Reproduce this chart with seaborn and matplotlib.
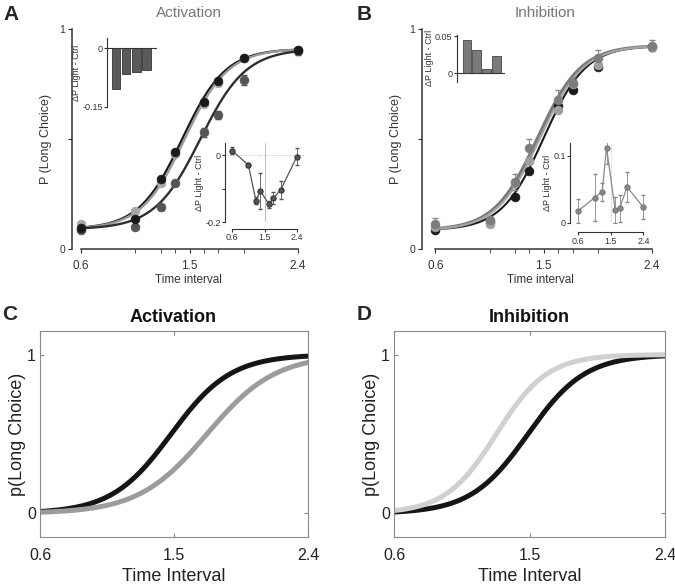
import numpy as np
import pandas as pd
import seaborn as sns
import matplotlib.pyplot as plt

# time intervals tested (s)
intervals = [0.6, 1.05, 1.26, 1.38, 1.62, 1.74, 1.95, 2.4]

# A - activation, P(long choice)
act_black = [0.094, 0.135, 0.318, 0.439, 0.668, 0.764, 0.870, 0.905]
act_grey = [0.114, 0.174, 0.300, 0.430, 0.660, 0.756, 0.867, 0.905]
act_light = [0.086, 0.100, 0.190, 0.300, 0.530, 0.610, 0.770, 0.900]
act_light_err = [0.010, 0.008, 0.012, 0.012, 0.019, 0.019, 0.023, 0.020]
# fitted psychometric curves: midpoint, width (black, grey, light)
act_fit_mid = [1.44, 1.46, 1.59]
act_fit_width = [0.18, 0.18, 0.19]
act_fit_range = [0.09, 0.91]
# insets
act_bar = [-0.105, -0.066, -0.062, -0.056]
act_diff = [0.013, -0.030, -0.136, -0.106, -0.146, -0.129, -0.104, -0.005]
act_diff_err = [0.010, 0.004, 0.011, 0.054, 0.010, 0.018, 0.026, 0.025]

# B - inhibition
inh_black = [0.086, 0.125, 0.238, 0.356, 0.650, 0.723, 0.829, 0.920]
inh_grey = [0.114, 0.132, 0.306, 0.458, 0.677, 0.756, 0.867, 0.925]
inh_grey_err = [0.027, 0.019, 0.037, 0.040, 0.044, 0.027, 0.038, 0.025]
inh_pale = [0.100, 0.114, 0.300, 0.400, 0.632, 0.750, 0.836, 0.920]
inh_fit_mid = [1.50, 1.45, 1.47]
inh_fit_width = [0.175, 0.18, 0.18]
inh_fit_range = [0.085, 0.925]
inh_bar = [0.0455, 0.032, 0.006, 0.024]
inh_diff = [0.018, 0.0375, 0.0465, 0.1125, 0.019, 0.0215, 0.0535, 0.023]
inh_diff_err = [0.018, 0.035, 0.0135, 0.024, 0.020, 0.020, 0.023, 0.018]

# C / D - model curves: midpoint, width
model_act_mid = [1.48, 1.72]
model_act_width = [0.20, 0.23]
model_inh_mid = [1.49, 1.28]
model_inh_width = [0.19, 0.17]


def sigmoid(x, mid, width, lo=0.0, hi=1.0):
    return lo + (hi - lo) / (1 + np.exp(-(x - mid) / width))


sns.set_style("ticks")
plt.rcParams['font.family'] = ['Liberation Sans', 'DejaVu Sans']
plt.rcParams['axes.unicode_minus'] = False

W, H = 675, 588
fig = plt.figure(figsize=(W / 100, H / 100), dpi=100)


def add_ax(left, top, right, bottom):
    return fig.add_axes([left / W, 1 - bottom / H, (right - left) / W, (bottom - top) / H])


def ftext(x, y, s, **kw):
    fig.text(x / W, 1 - y / H, s, ha='center', va='center', **kw)


grid = np.linspace(0.6, 2.4, 300)
axis_col = '#333333'


def style_main(ax, xlim):
    ax.set_xlim(*xlim)
    ax.set_ylim(0, 1)
    sns.despine(ax=ax)
    for s in ['left', 'bottom']:
        ax.spines[s].set_color(axis_col)
        ax.spines[s].set_linewidth(1.1)
    ax.spines['bottom'].set_bounds(0.6, 2.4)
    ax.spines['left'].set_bounds(0, 1)
    ax.set_xticks([0.6, 1.5, 2.4])
    ax.set_xticks(intervals, minor=True)
    ax.set_yticks([0, 0.5, 1])
    ax.set_yticklabels(['0', '', '1'])
    ax.tick_params(axis='x', labelsize=8.5, length=3, pad=5, colors=axis_col)
    ax.tick_params(axis='x', which='minor', length=3, color=axis_col)
    ax.tick_params(axis='y', labelsize=7.5, length=3, pad=2, colors=axis_col)
    ax.set_xlabel('Time interval', fontsize=8.5, labelpad=1, color=axis_col)
    ax.set_ylabel('P (Long Choice)', fontsize=9, labelpad=5, color=axis_col)
    ax.patch.set_alpha(0)


def style_inset(ax):
    sns.despine(ax=ax)
    ax.spines['left'].set_color(axis_col)
    ax.spines['left'].set_linewidth(0.8)
    ax.tick_params(labelsize=6.5, length=2, pad=1, colors=axis_col)
    ax.patch.set_alpha(0)


# ---------------- A ----------------
axA = add_ax(72, 29, 304, 249)
fitA_cols = ['#1a1a1a', '#9a9a9a', '#2e2e2e']
for mid, wd, c in zip(act_fit_mid, act_fit_width, fitA_cols):
    sns.lineplot(x=grid, y=sigmoid(grid, mid, wd, *act_fit_range), color=c, lw=1.7, ax=axA)
axA.errorbar(intervals, act_light, yerr=act_light_err, fmt='none', ecolor='#555555', elinewidth=0.8, capsize=2)
for vals, c in [(act_grey, '#a8a8a8'), (act_light, '#555555'), (act_black, '#1a1a1a')]:
    sns.scatterplot(x=intervals, y=vals, color=c, s=40, edgecolor=c, ax=axA, zorder=3)
style_main(axA, (0.525, 2.45))
ftext(189, 13, 'Activation', fontsize=11, color='#777777')
ftext(11, 15, 'A', fontsize=15, fontweight='bold')

# inset bars A
axAb = add_ax(107, 38, 157, 107)
sns.barplot(x=[0, 1, 2, 3], y=act_bar, color='#5a5a5a', edgecolor='#333333', linewidth=0.6,
            saturation=1, width=0.82, ax=axAb)
axAb.axhline(0, color=axis_col, lw=0.8)
axAb.set_xlim(-0.85, 4.0)
axAb.set_ylim(-0.15, 0.026)
style_inset(axAb)
axAb.spines['bottom'].set_visible(False)
axAb.set_xticks([])
axAb.set_yticks([-0.15, 0])
axAb.set_yticklabels(['-0.15', '0'])
axAb.set_ylabel('ΔP Light - Ctrl', fontsize=6.5, labelpad=1, color=axis_col)

# inset line A
axAl = add_ax(225, 143, 305, 222.3)
axAl.axhline(0, color='#bbbbbb', lw=0.7, ls=':')
axAl.axvline(1.5, color='#bbbbbb', lw=0.7)
axAl.errorbar(intervals, act_diff, yerr=act_diff_err, fmt='none', ecolor='#555555', elinewidth=0.6, capsize=1.5)
sns.lineplot(x=intervals, y=act_diff, color='#555555', lw=0.9, marker='o', markersize=3.8,
             markeredgecolor='#333333', ax=axAl)
axAl.set_xlim(0.396, 2.63)
axAl.set_ylim(-0.2, 0.036)
style_inset(axAl)
axAl.spines['bottom'].set_position(('outward', 5))
axAl.spines['bottom'].set_bounds(0.6, 2.4)
axAl.spines['bottom'].set_color(axis_col)
axAl.set_xticks([0.6, 1.5, 2.4])
axAl.set_xticklabels(['0.6', '1.5', '2.4'])
axAl.set_yticks([-0.2, -0.1, 0])
axAl.set_yticklabels(['-0.2', '', '0'])
axAl.set_ylabel('ΔP Light - Ctrl', fontsize=6.5, labelpad=1, color=axis_col)

# ---------------- B ----------------
axB = add_ax(422, 29, 658, 249)
fitB_cols = ['#1a1a1a', '#7a7a7a', '#a5a5a5']
for mid, wd, c, lw in zip(inh_fit_mid, inh_fit_width, fitB_cols, [1.5, 2.4, 1.5]):
    sns.lineplot(x=grid, y=sigmoid(grid, mid, wd, *inh_fit_range), color=c, lw=lw, ax=axB)
axB.errorbar(intervals, inh_grey, yerr=inh_grey_err, fmt='none', ecolor='#888888', elinewidth=0.8, capsize=2)
for vals, c in [(inh_black, '#1a1a1a'), (inh_pale, '#a0a0a0'), (inh_grey, '#7d7d7d')]:
    sns.scatterplot(x=intervals, y=vals, color=c, s=40, edgecolor=c, ax=axB, zorder=3)
style_main(axB, (0.488, 2.45))
ftext(545, 13, 'Inhibition', fontsize=11, color='#777777')
ftext(364, 14, 'B', fontsize=15, fontweight='bold')

axBb = add_ax(456.7, 35, 505, 81.7)
sns.barplot(x=[0, 1, 2, 3], y=inh_bar, color='#7a7a7a', edgecolor='#444444', linewidth=0.6,
            saturation=1, width=0.83, ax=axBb)
axBb.axhline(0, color=axis_col, lw=0.8)
axBb.set_xlim(-1.0, 3.86)
axBb.set_ylim(-0.0115, 0.052)
style_inset(axBb)
axBb.spines['bottom'].set_visible(False)
axBb.set_xticks([])
axBb.set_yticks([0, 0.05])
axBb.set_yticklabels(['0', '0.05'])
axBb.set_ylabel('ΔP Light - Ctrl', fontsize=6.5, labelpad=1, color=axis_col)

axBl = add_ax(570, 143.3, 651.7, 222.7)
axBl.axhline(0, color='#bbbbbb', lw=0.7, ls=':')
axBl.axvline(1.5, color='#bbbbbb', lw=0.7, ls=':')
axBl.errorbar(intervals, inh_diff, yerr=inh_diff_err, fmt='none', ecolor='#888888', elinewidth=0.6, capsize=1.5)
sns.lineplot(x=intervals, y=inh_diff, color='#888888', lw=0.9, marker='o', markersize=3.8,
             markeredgecolor='#777777', ax=axBl)
axBl.set_xlim(0.37, 2.63)
axBl.set_ylim(0, 0.119)
style_inset(axBl)
axBl.spines['bottom'].set_position(('outward', 7))
axBl.spines['bottom'].set_bounds(0.6, 2.4)
axBl.spines['bottom'].set_color(axis_col)
axBl.set_xticks([0.6, 1.5, 2.4])
axBl.set_xticklabels(['0.6', '1.5', '2.4'])
axBl.set_yticks([0, 0.1])
axBl.set_yticklabels(['0', '0.1'])
axBl.set_ylabel('ΔP Light - Ctrl', fontsize=6.5, labelpad=1, color=axis_col)


# ---------------- C / D ----------------
def model_panel(ax, mids, widths, cols, title, label, tx, lx):
    for mid, wd, c in zip(mids, widths, cols):
        sns.lineplot(x=grid, y=sigmoid(grid, mid, wd), color=c, lw=3.6, ax=ax)
    ax.set_xlim(0.6, 2.4)
    ax.set_ylim(-0.15, 1.15)
    ax.set_xticks([0.6, 1.5, 2.4])
    ax.set_xticklabels(['0.6', '1.5', '2.4'])
    ax.set_yticks([0, 1])
    ax.set_yticklabels(['0', '1'])
    for s in ax.spines.values():
        s.set_color('#8a8a8a')
        s.set_linewidth(0.8)
    ax.tick_params(direction='in', length=3, top=True, right=True, labelsize=11.5,
                   colors='#8a8a8a', labelcolor='#222222')
    ax.tick_params(axis='x', pad=8)
    ax.tick_params(axis='y', pad=3)
    ax.set_xlabel('Time Interval', fontsize=13, labelpad=3, color='#222222')
    ax.set_ylabel('p(Long Choice)', fontsize=13, labelpad=1, color='#222222')
    ftext(tx, 318, title, fontsize=13, fontweight='bold', color='#111111')
    ftext(lx, 314, label, fontsize=15, fontweight='bold')


axC = add_ax(40, 330.7, 308.3, 537.3)
model_panel(axC, model_act_mid, model_act_width, ['#151515', '#9c9c9c'], 'Activation', 'C', 173, 10)
axD = add_ax(394, 330.7, 665, 537.3)
model_panel(axD, model_inh_mid, model_inh_width, ['#151515', '#d0d0d0'], 'Inhibition', 'D', 529, 364)

fig.savefig('out.png', dpi=100)
